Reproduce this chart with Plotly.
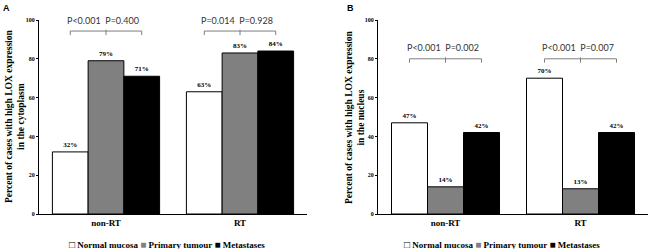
import plotly.graph_objects as go

categories = ["non-RT", "RT"]
series_names = ["Normal mucosa", "Primary tumour", "Metastases"]
colors = ["#ffffff", "#808080", "#000000"]

# Panel A: cytoplasm
cyto_normal = [32, 63]
cyto_primary = [79, 83]
cyto_meta = [71, 84]
# Panel B: nucleus
nuc_normal = [47, 70]
nuc_primary = [14, 13]
nuc_meta = [42, 42]

p_cyto = [["P<0.001", "P=0.400"], ["P=0.014", "P=0.928"]]
p_nuc = [["P<0.001", "P=0.002"], ["P<0.001", "P=0.007"]]

y_ticks = [0, 20, 40, 60, 80, 100]

SERIF = "Liberation Serif"
SANS = "Lato"
W, H = 650, 249

fig = go.Figure()

panels = [
    ("x", "y", [cyto_normal, cyto_primary, cyto_meta]),
    ("x2", "y2", [nuc_normal, nuc_primary, nuc_meta]),
]
for xa, ya, vals in panels:
    for name, col, v in zip(series_names, colors, vals):
        fig.add_trace(go.Bar(
            x=categories, y=v, name=name, xaxis=xa, yaxis=ya,
            marker=dict(color=col, line=dict(color="black", width=1)),
            text=[f"<b>{t}%</b>" for t in v], textposition="outside",
            textfont=dict(family=SERIF, size=7, color="black"),
            cliponaxis=False, showlegend=False,
        ))

def px(x):
    return x / W

def py(y):
    return 1 - y / H

ydom = [py(214), py(20)]
axis_common = dict(showline=True, linecolor="black", linewidth=1, showgrid=False,
                   zeroline=False, automargin=False)
xcommon = dict(ticks="", tickfont=dict(family=SERIF, size=9, color="black"),
               tickvals=categories, ticktext=[f"<b>{c}</b>" for c in categories],
               range=[-0.5, 1.5], **axis_common)
ycommon = dict(range=[0, 100], ticks="outside", ticklen=2, tickcolor="black",
               tickvals=y_ticks, ticktext=[f"<b>{t}</b>" for t in y_ticks],
               tickfont=dict(family=SERIF, size=6, color="black"), **axis_common)
fig.update_layout(
    width=W, height=H, margin=dict(l=0, r=0, t=0, b=0),
    paper_bgcolor="white", plot_bgcolor="white",
    barmode="group", bargap=0.2, bargroupgap=0,
    xaxis=dict(domain=[px(39), px(307)], anchor="y", **xcommon),
    yaxis=dict(domain=ydom, anchor="x", **ycommon),
    xaxis2=dict(domain=[px(378), px(648)], anchor="y2", **xcommon),
    yaxis2=dict(domain=ydom, anchor="x2", **ycommon),
)

# brackets with p-values
def add_brackets(xref, yref, pvals, y_text, y_top, y_bottom, y_mid_top):
    off = 0.8 / 3
    for i, (p1, p2) in enumerate(pvals):
        lc = dict(color="#7f7f7f", width=1)
        fig.add_shape(type="line", xref=xref, yref=yref, x0=i - off, x1=i + off,
                      y0=y_top, y1=y_top, line=lc)
        for xx in (i - off, i + off):
            fig.add_shape(type="line", xref=xref, yref=yref, x0=xx, x1=xx,
                          y0=y_top, y1=y_bottom, line=lc)
        fig.add_shape(type="line", xref=xref, yref=yref, x0=i, x1=i,
                      y0=y_mid_top, y1=y_bottom, line=lc)
        fig.add_annotation(xref=xref, yref=yref, x=i - 0.02, y=y_text,
                           text=f"{p1}&nbsp;&nbsp;{p2}", showarrow=False,
                           xanchor="center", yanchor="middle",
                           font=dict(family=SANS, size=9, color="#333333"))

add_brackets("x", "y", p_cyto, 100, 94.3, 92.2, 95.0)
add_brackets("x2", "y2", p_nuc, 86, 80.0, 78.0, 80.8)

# y-axis titles
ymid = (ydom[0] + ydom[1]) / 2
fig.add_annotation(xref="paper", yref="paper", x=px(15), y=ymid, xanchor="center", yanchor="middle",
                   text="<b>Percent of cases with high LOX expression<br>in the cytoplasm</b>",
                   textangle=-90, showarrow=False,
                   font=dict(family=SERIF, size=9.5, color="black"))
fig.add_annotation(xref="paper", yref="paper", x=px(355), y=ymid, xanchor="center", yanchor="middle",
                   text="<b>Percent of cases with high LOX expression<br>in the nucleus</b>",
                   textangle=-90, showarrow=False,
                   font=dict(family=SERIF, size=9.5, color="black"))

# panel labels
fig.add_annotation(xref="paper", yref="paper", x=px(1), y=py(1), xanchor="left", yanchor="top",
                   text="<b>A</b>", showarrow=False, font=dict(family="Liberation Sans", size=9, color="black"))
fig.add_annotation(xref="paper", yref="paper", x=px(345), y=py(1), xanchor="left", yanchor="top",
                   text="<b>B</b>", showarrow=False, font=dict(family="Liberation Sans", size=9, color="black"))

# legends
legend_text = ("<b><span style='color:black;font-size:10px'>□</span> Normal mucosa "
               "<span style='color:#808080;font-size:10px'>■</span> Primary tumour "
               "<span style='color:black;font-size:10px'>■</span> Metastases</b>")
for cx in (167, 502):
    fig.add_annotation(xref="paper", yref="paper", x=px(cx), y=py(244),
                       xanchor="center", yanchor="middle",
                       text=legend_text, showarrow=False,
                       font=dict(family=SERIF, size=9, color="black"))

fig.write_html("out.html", config={"displayModeBar": False},
               post_script="document.body.style.margin='0px';")
